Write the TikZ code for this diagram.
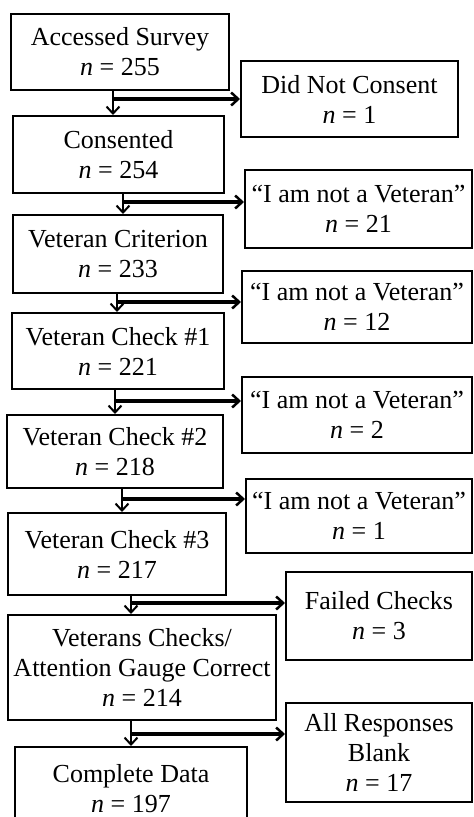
\documentclass[tikz,border=0pt]{standalone}
\usepackage{fontspec}
\setmainfont{Liberation Serif}
\usetikzlibrary{arrows.meta}
\begin{document}
\begin{tikzpicture}[x=1pt,y=-1pt,
  box/.style={draw, line width=2pt, align=center, inner sep=0pt,
    font=\fontsize{26}{30}\selectfont},
  varr/.style={line width=2pt, -{Straight Barb[length=7pt,width=13pt,line width=2pt]}},
  harr/.style={line width=3.2pt, -{Straight Barb[length=7pt,width=13pt,line width=2.5pt]}}]
\useasboundingbox (0,0) rectangle (474,817);
\clip (0,0) rectangle (474,817);
\fill[white] (0,0) rectangle (474,817);
% main column
\node[box, minimum width=218pt, minimum height=76pt] (A) at (120,52) {Accessed Survey\\\textit{n} = 255};
\node[box, minimum width=211pt, minimum height=77pt] (B) at (118.5,154.5) {Consented\\\textit{n} = 254};
\node[box, minimum width=210pt, minimum height=78pt] (C) at (118,254) {Veteran Criterion\\\textit{n} = 233};
\node[box, minimum width=212pt, minimum height=76pt] (E) at (118,351) {Veteran Check \#1\\\textit{n} = 221};
\node[box, minimum width=216pt, minimum height=73pt] (F) at (115,451.5) {Veteran Check \#2\\\textit{n} = 218};
\node[box, minimum width=218pt, minimum height=82pt] (G) at (117,554) {Veteran Check \#3\\\textit{n} = 217};
\node[box, minimum width=268pt, minimum height=105pt] (H) at (142,667.5) {Veterans Checks/\\Attention Gauge Correct\\\textit{n} = 214};
\node[box, minimum width=232pt, minimum height=84pt, anchor=north] (I) at (131,746) {Complete Data\\\textit{n} = 197};
% side column
\node[box, minimum width=217pt, minimum height=76pt] (D1) at (349.5,99) {Did Not Consent\\\textit{n} = 1};
\node[box, minimum width=227pt, minimum height=78pt] (D2) at (358.5,209) {“I am not a Veteran”\\\textit{n} = 21};
\node[box, minimum width=230pt, minimum height=72pt] (D3) at (357,307) {“I am not a Veteran”\\\textit{n} = 12};
\node[box, minimum width=230pt, minimum height=76pt] (D4) at (357,415) {“I am not a Veteran”\\\textit{n} = 2};
\node[box, minimum width=226pt, minimum height=74pt] (D5) at (359,516) {“I am not a Veteran”\\\textit{n} = 1};
\node[box, minimum width=186pt, minimum height=88pt] (D6) at (379,616) {Failed Checks\\\textit{n} = 3};
\node[box, minimum width=186pt, minimum height=99pt] (D7) at (379,752.5) {All Responses\\Blank\\\textit{n} = 17};
% junctions
\coordinate (j1) at (113,99);
\coordinate (j2) at (123,202);
\coordinate (j3) at (117,302);
\coordinate (j4) at (115,401);
\coordinate (j5) at (122,499);
\coordinate (j6) at (131,603);
\coordinate (j7) at (131,734);
% connectors
\draw[varr] (j1 |- A.south) -- (j1 |- B.north);
\draw[harr] (j1) -- (j1 -| D1.west);
\draw[varr] (j2 |- B.south) -- (j2 |- C.north);
\draw[harr] (j2) -- (j2 -| D2.west);
\draw[varr] (j3 |- C.south) -- (j3 |- E.north);
\draw[harr] (j3) -- (j3 -| D3.west);
\draw[varr] (j4 |- E.south) -- (j4 |- F.north);
\draw[harr] (j4) -- (j4 -| D4.west);
\draw[varr] (j5 |- F.south) -- (j5 |- G.north);
\draw[harr] (j5) -- (j5 -| D5.west);
\draw[varr] (j6 |- G.south) -- (j6 |- H.north);
\draw[harr] (j6) -- (j6 -| D6.west);
\draw[varr] (j7 |- H.south) -- (j7 |- I.north);
\draw[harr] (j7) -- (j7 -| D7.west);
\end{tikzpicture}
\end{document}
